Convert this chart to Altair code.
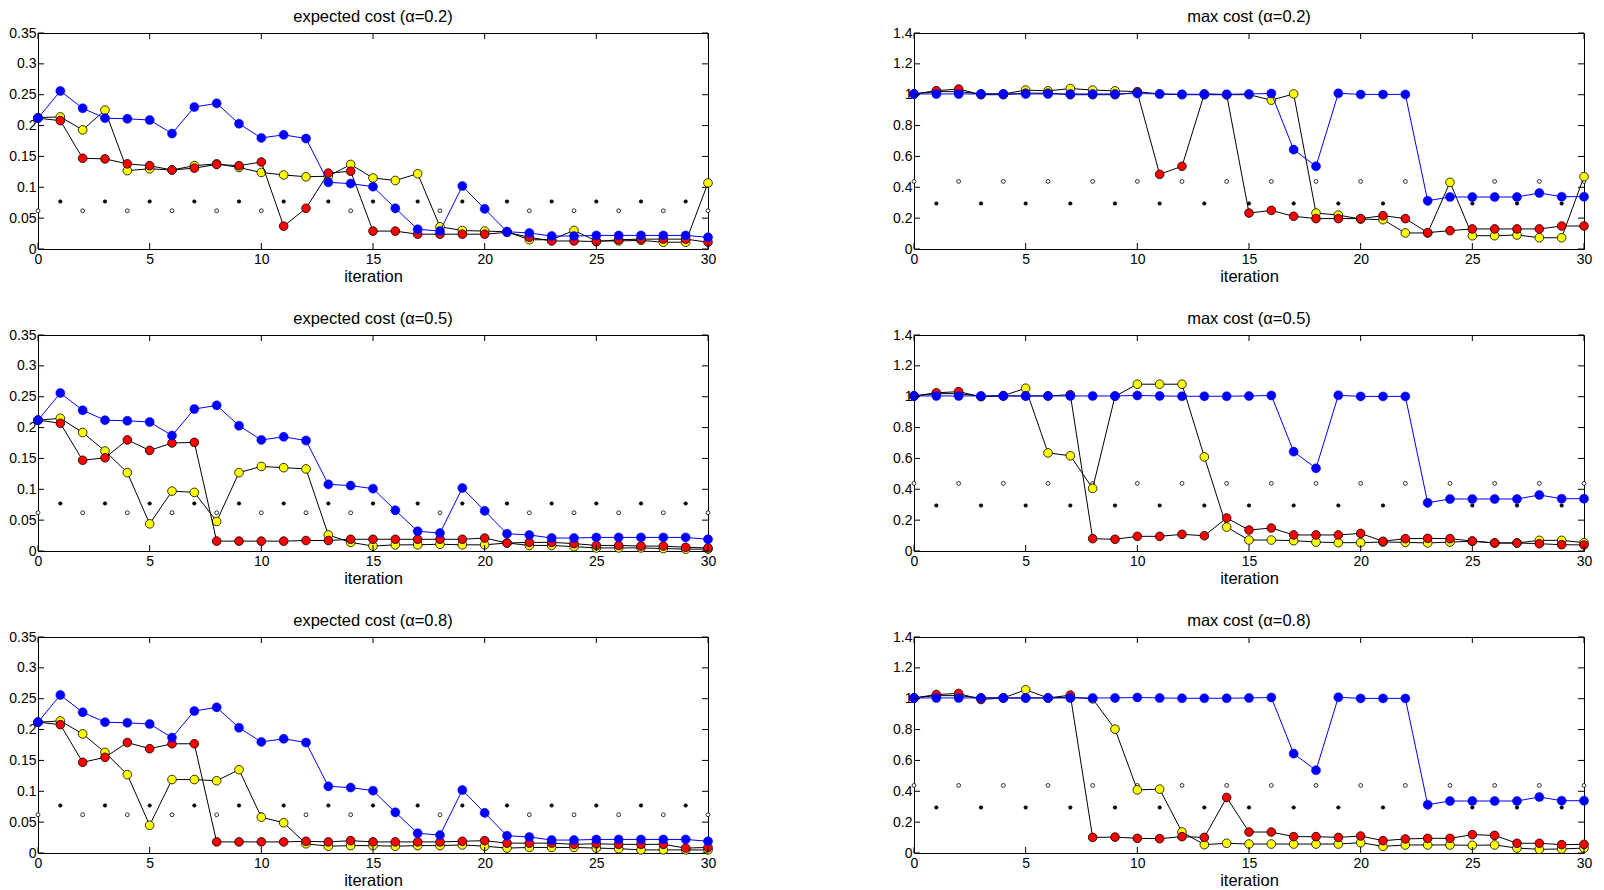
import altair as alt
import pandas as pd

iters = list(range(31))
x_ticks = [0, 5, 10, 15, 20, 25, 30]
y_ticks_exp = [0, 0.05, 0.1, 0.15, 0.2, 0.25, 0.3, 0.35]
y_ticks_max = [0, 0.2, 0.4, 0.6, 0.8, 1.0, 1.2, 1.4]

open_iters = [0, 2, 4, 6, 8, 10, 12, 14, 16, 18, 20, 22, 24, 26, 28, 30]
filled_iters = [1, 3, 5, 7, 9, 11, 13, 15, 17, 19, 21, 23, 25, 27, 29]
open_exp = [0.062, 0.062, 0.062, 0.062, 0.062, 0.062, 0.062, 0.062,
            0.062, 0.062, 0.062, 0.062, 0.062, 0.062, 0.062, 0.062]
filled_exp = [0.077, 0.077, 0.077, 0.077, 0.077, 0.077, 0.077, 0.077,
              0.077, 0.077, 0.077, 0.077, 0.077, 0.077, 0.077]
open_max = [0.438, 0.438, 0.438, 0.438, 0.438, 0.438, 0.438, 0.438,
            0.438, 0.438, 0.438, 0.438, 0.438, 0.438, 0.438, 0.438]
filled_max = [0.295, 0.295, 0.295, 0.295, 0.295, 0.295, 0.295, 0.295,
              0.295, 0.295, 0.295, 0.295, 0.295, 0.295, 0.295]

blue_exp = [0.212, 0.256, 0.228, 0.212, 0.211, 0.209, 0.187, 0.230, 0.236, 0.203, 0.180,
            0.185, 0.179, 0.108, 0.106, 0.101, 0.066, 0.032, 0.029, 0.102, 0.065,
            0.028, 0.026, 0.021, 0.021, 0.022, 0.022, 0.022, 0.022, 0.022, 0.019]
blue_max = [1.005, 1.005, 1.005, 1.005, 1.005, 1.005, 1.005, 1.005, 1.005, 1.005, 1.008,
            1.005, 1.003, 1.003, 1.003, 1.005, 1.008, 0.644, 0.536, 1.009, 1.002,
            1.002, 1.002, 0.313, 0.337, 0.337, 0.337, 0.337, 0.363, 0.339, 0.339]

yellow_exp_02 = [0.213, 0.214, 0.193, 0.225, 0.127, 0.130, 0.128, 0.135, 0.138, 0.132, 0.124,
                 0.120, 0.117, 0.118, 0.137, 0.115, 0.111, 0.122, 0.036, 0.030, 0.029,
                 0.028, 0.015, 0.015, 0.030, 0.013, 0.013, 0.014, 0.011, 0.011, 0.107]
red_exp_02 = [0.212, 0.208, 0.147, 0.146, 0.138, 0.135, 0.128, 0.131, 0.137, 0.135, 0.141,
              0.037, 0.066, 0.123, 0.126, 0.029, 0.029, 0.024, 0.024, 0.024, 0.024,
              0.027, 0.019, 0.013, 0.013, 0.012, 0.015, 0.016, 0.016, 0.016, 0.011]
yellow_max_02 = [1.005, 1.02, 1.02, 1.005, 1.005, 1.03, 1.025, 1.04, 1.03, 1.025, 1.02,
                 1.005, 1.0, 1.0, 1.0, 1.0, 0.965, 1.005, 0.233, 0.22, 0.194,
                 0.19, 0.104, 0.104, 0.432, 0.086, 0.086, 0.091, 0.073, 0.073, 0.469]
red_max_02 = [1.005, 1.026, 1.037, 1.0, 1.0, 1.01, 1.01, 1.0, 1.0, 1.0, 1.015,
              0.484, 0.536, 1.005, 1.0, 0.233, 0.25, 0.212, 0.197, 0.197, 0.197,
              0.216, 0.197, 0.106, 0.119, 0.13, 0.13, 0.13, 0.13, 0.149, 0.149]

yellow_exp_05 = [0.212, 0.215, 0.192, 0.162, 0.127, 0.044, 0.097, 0.095, 0.048, 0.127, 0.137,
                 0.135, 0.133, 0.026, 0.014, 0.008, 0.010, 0.010, 0.011, 0.010, 0.010,
                 0.013, 0.009, 0.009, 0.007, 0.005, 0.005, 0.005, 0.004, 0.003, 0.003]
red_exp_05 = [0.212, 0.207, 0.147, 0.151, 0.180, 0.163, 0.175, 0.176, 0.016, 0.016, 0.016,
              0.016, 0.017, 0.017, 0.019, 0.019, 0.019, 0.019, 0.019, 0.019, 0.021,
              0.013, 0.014, 0.014, 0.012, 0.009, 0.009, 0.008, 0.008, 0.006, 0.005]
yellow_max_05 = [1.005, 1.02, 1.02, 1.003, 1.007, 1.055, 0.636, 0.617, 0.406, 1.003, 1.081,
                 1.081, 1.081, 0.610, 0.155, 0.071, 0.071, 0.067, 0.058, 0.054, 0.054,
                 0.058, 0.056, 0.052, 0.058, 0.063, 0.052, 0.052, 0.069, 0.069, 0.054]
red_max_05 = [1.005, 1.025, 1.033, 1.0, 1.005, 1.005, 1.005, 1.013, 0.080, 0.076, 0.095,
              0.095, 0.108, 0.099, 0.214, 0.136, 0.149, 0.104, 0.104, 0.104, 0.114,
              0.063, 0.080, 0.082, 0.080, 0.065, 0.052, 0.052, 0.047, 0.041, 0.039]

yellow_exp_08 = [0.212, 0.214, 0.193, 0.163, 0.127, 0.045, 0.119, 0.119, 0.117, 0.135, 0.058,
                 0.049, 0.015, 0.011, 0.012, 0.012, 0.011, 0.012, 0.012, 0.013, 0.011,
                 0.008, 0.009, 0.009, 0.009, 0.008, 0.007, 0.005, 0.005, 0.005, 0.005]
red_exp_08 = [0.212, 0.208, 0.147, 0.155, 0.179, 0.169, 0.177, 0.177, 0.018, 0.018, 0.018,
              0.018, 0.019, 0.018, 0.020, 0.018, 0.018, 0.018, 0.018, 0.019, 0.020,
              0.016, 0.016, 0.016, 0.014, 0.015, 0.014, 0.014, 0.014, 0.008, 0.009]
yellow_max_08 = [1.005, 1.02, 1.02, 1.005, 1.005, 1.058, 1.005, 1.01, 0.999, 0.803, 0.409,
                 0.414, 0.136, 0.054, 0.063, 0.058, 0.058, 0.058, 0.058, 0.058, 0.067,
                 0.043, 0.052, 0.052, 0.052, 0.050, 0.052, 0.032, 0.024, 0.026, 0.032]
red_max_08 = [1.005, 1.027, 1.034, 0.995, 1.005, 1.005, 1.005, 1.023, 0.101, 0.103, 0.095,
              0.093, 0.106, 0.101, 0.360, 0.136, 0.136, 0.106, 0.106, 0.101, 0.110,
              0.080, 0.091, 0.095, 0.095, 0.119, 0.114, 0.063, 0.063, 0.054, 0.056]

W, H = 670, 216
TICK = 6
FONT = "Liberation Sans"


def panel(title, yellow, red, blue, open_y, filled_y, ymax, yticks):
    xs = alt.Scale(domain=[0, 30], nice=False, zero=False)
    ys = alt.Scale(domain=[0, ymax], nice=False, zero=False)
    xa = alt.Axis(values=x_ticks, title="iteration", tickSize=0,
                  domain=False, grid=False, labelPadding=3,
                  titlePadding=2, labelFlush=False)
    ya = alt.Axis(values=yticks, title=None, format="~g", tickSize=0,
                  domain=False, grid=False, labelPadding=2, labelFlush=False)
    X = alt.X("iteration:Q", scale=xs, axis=xa)
    Y = alt.Y("value:Q", scale=ys, axis=ya)

    d_open = pd.DataFrame({"iteration": open_iters, "value": open_y})
    d_filled = pd.DataFrame({"iteration": filled_iters, "value": filled_y})
    d_y = pd.DataFrame({"iteration": iters, "value": yellow})
    d_r = pd.DataFrame({"iteration": iters, "value": red})
    d_b = pd.DataFrame({"iteration": iters, "value": blue})
    d_xt = pd.DataFrame({"iteration": x_ticks})
    d_yt = pd.DataFrame({"value": yticks})

    layers = [
        alt.Chart(d_open).mark_point(shape="circle", filled=True, fill="white",
                                     stroke="black", strokeWidth=0.8, size=15,
                                     opacity=1).encode(x=X, y=Y),
        alt.Chart(d_filled).mark_point(shape="circle", filled=True, fill="black",
                                       stroke="black", strokeWidth=0.5, size=13,
                                       opacity=1).encode(x=X, y=Y),
        alt.Chart(d_y).mark_line(color="black", strokeWidth=1).encode(x=X, y=Y),
        alt.Chart(d_y).mark_point(shape="circle", filled=True, fill="#ffff00",
                                  stroke="black", strokeWidth=0.8, size=75,
                                  opacity=1).encode(x=X, y=Y),
        alt.Chart(d_r).mark_line(color="black", strokeWidth=1).encode(x=X, y=Y),
        alt.Chart(d_r).mark_point(shape="circle", filled=True, fill="#ff0000",
                                  stroke="black", strokeWidth=0.8, size=75,
                                  opacity=1).encode(x=X, y=Y),
        alt.Chart(d_b).mark_line(color="#0000ff", strokeWidth=1).encode(x=X, y=Y),
        alt.Chart(d_b).mark_point(shape="circle", filled=True, fill="#0000ff",
                                  stroke="#0000ff", strokeWidth=0.5, size=82,
                                  opacity=1).encode(x=X, y=Y),
        alt.Chart(d_xt).mark_rule(color="black", strokeWidth=1).encode(
            x=X, y=alt.value(0), y2=alt.value(TICK)),
        alt.Chart(d_xt).mark_rule(color="black", strokeWidth=1).encode(
            x=X, y=alt.value(H - TICK), y2=alt.value(H)),
        alt.Chart(d_yt).mark_rule(color="black", strokeWidth=1).encode(
            y=Y, x=alt.value(0), x2=alt.value(TICK)),
        alt.Chart(d_yt).mark_rule(color="black", strokeWidth=1).encode(
            y=Y, x=alt.value(W - TICK), x2=alt.value(W)),
    ]
    return alt.layer(*layers).properties(
        width=W, height=H,
        title=alt.TitleParams(title, frame="group", anchor="middle", offset=1,
                              fontSize=16.5, fontWeight="normal", font=FONT, color="black"),
    )


rows = [
    ("0.2", yellow_exp_02, red_exp_02, yellow_max_02, red_max_02),
    ("0.5", yellow_exp_05, red_exp_05, yellow_max_05, red_max_05),
    ("0.8", yellow_exp_08, red_exp_08, yellow_max_08, red_max_08),
]

row_charts = []
for a, ye, re_, ym, rm in rows:
    left = panel(f"expected cost (α={a})", ye, re_, blue_exp, open_exp, filled_exp,
                 0.35, y_ticks_exp)
    right = panel(f"max cost (α={a})", ym, rm, blue_max, open_max, filled_max,
                  1.4, y_ticks_max)
    row_charts.append(alt.hconcat(left, right, spacing=175))

chart = alt.vconcat(*row_charts, spacing=25).properties(
    padding={"left": 0, "top": 0, "right": 0, "bottom": 0}
).configure(
    font=FONT,
).configure_view(
    stroke="black", strokeWidth=1
).configure_axis(
    labelFont=FONT, titleFont=FONT, labelFontSize=14, titleFontSize=16.5,
    titleFontWeight="normal", labelColor="black", titleColor="black"
)

chart.save("out.html", embed_options={"renderer": "svg", "actions": False})
